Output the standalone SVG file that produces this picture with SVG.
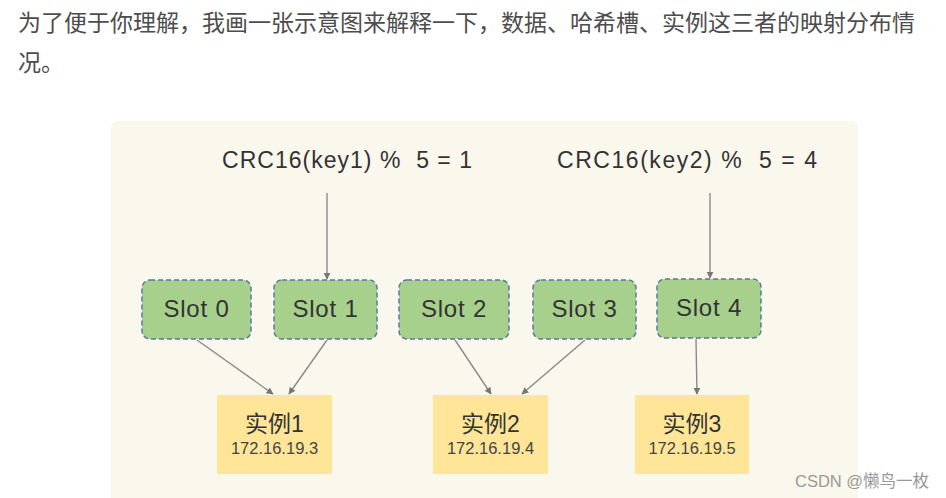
<svg xmlns="http://www.w3.org/2000/svg" width="946" height="498" viewBox="0 0 946 498">
<defs>
<style>
.hdr{font-family:"Liberation Sans","Noto Sans CJK SC",sans-serif;font-size:23px;fill:#4d4d4d}
.crc{font-family:"Liberation Sans","Noto Sans CJK SC",sans-serif;font-size:23px;fill:#333;white-space:pre}
.slot rect{fill:#a7d08c;stroke:#5a77a8;stroke-width:1.5;stroke-dasharray:5 3}
.slot text{font-family:"Liberation Sans",sans-serif;font-size:24px;fill:#333;text-anchor:middle;letter-spacing:0.8px}
.inst rect{fill:#ffe598}
.inst .t{font-family:"Liberation Sans","Noto Sans CJK SC",sans-serif;font-size:23px;fill:#333;text-anchor:middle}
.inst .ip{font-family:"Liberation Sans",sans-serif;font-size:16.5px;fill:#444;text-anchor:middle}
.conn line{stroke:#8a8a8a;stroke-width:1.4;marker-end:url(#ah)}
.wm{font-family:"Liberation Sans","Noto Sans CJK SC",sans-serif;font-size:16.5px;fill:#999}
</style>
<marker id="ah" viewBox="0 0 10 10" refX="9" refY="5" markerWidth="7" markerHeight="7" markerUnits="userSpaceOnUse" orient="auto">
<path d="M0,0 L10,5 L0,10 z" fill="#777"/>
</marker>
</defs>
<rect width="946" height="498" fill="#fff"/>
<text class="hdr" x="18" y="31">为了便于你理解，我画一张示意图来解释一下，数据、哈希槽、实例这三者的映射分布情</text>
<text class="hdr" x="18" y="71">况。</text>
<rect x="111" y="121" width="747" height="390" rx="7" fill="#faf7ec"/>
<g id="crc1"><text class="crc" x="222" y="168" textLength="250" lengthAdjust="spacing" xml:space="preserve">CRC16(key1) %  5 = 1</text></g>
<g id="crc2"><text class="crc" x="557" y="168" textLength="260" lengthAdjust="spacing" xml:space="preserve">CRC16(key2) %  5 = 4</text></g>
<g id="slot0" class="slot"><rect x="142" y="280" width="109" height="59" rx="8"/><text x="196.5" y="317">Slot 0</text></g>
<g id="slot1" class="slot"><rect x="274" y="280" width="103" height="59" rx="8"/><text x="325.5" y="317">Slot 1</text></g>
<g id="slot2" class="slot"><rect x="399" y="280" width="110" height="59" rx="8"/><text x="454" y="317">Slot 2</text></g>
<g id="slot3" class="slot"><rect x="533" y="280" width="103" height="59" rx="8"/><text x="584.5" y="317">Slot 3</text></g>
<g id="slot4" class="slot"><rect x="657" y="279" width="104" height="59" rx="8"/><text x="709" y="316">Slot 4</text></g>
<g id="inst1" class="inst"><rect x="217" y="395" width="115" height="79"/><text class="t" x="274.5" y="432">实例1</text><text class="ip" x="274.5" y="454">172.16.19.3</text></g>
<g id="inst2" class="inst"><rect x="433" y="395" width="115" height="79"/><text class="t" x="490.5" y="432">实例2</text><text class="ip" x="490.5" y="454">172.16.19.4</text></g>
<g id="inst3" class="inst"><rect x="635" y="395" width="114" height="79"/><text class="t" x="692" y="432">实例3</text><text class="ip" x="692" y="454">172.16.19.5</text></g>
<g id="connectors" class="conn">
<line x1="327" y1="193" x2="327" y2="279"/>
<line x1="710" y1="193" x2="710" y2="278"/>
<line x1="197" y1="340" x2="273" y2="394"/>
<line x1="327" y1="340" x2="289" y2="394"/>
<line x1="455" y1="340" x2="491" y2="394"/>
<line x1="585" y1="340" x2="522" y2="394"/>
<line x1="696" y1="339" x2="697" y2="394"/>
</g>
<text class="wm" x="795" y="487">CSDN @懒鸟一枚</text>
</svg>
